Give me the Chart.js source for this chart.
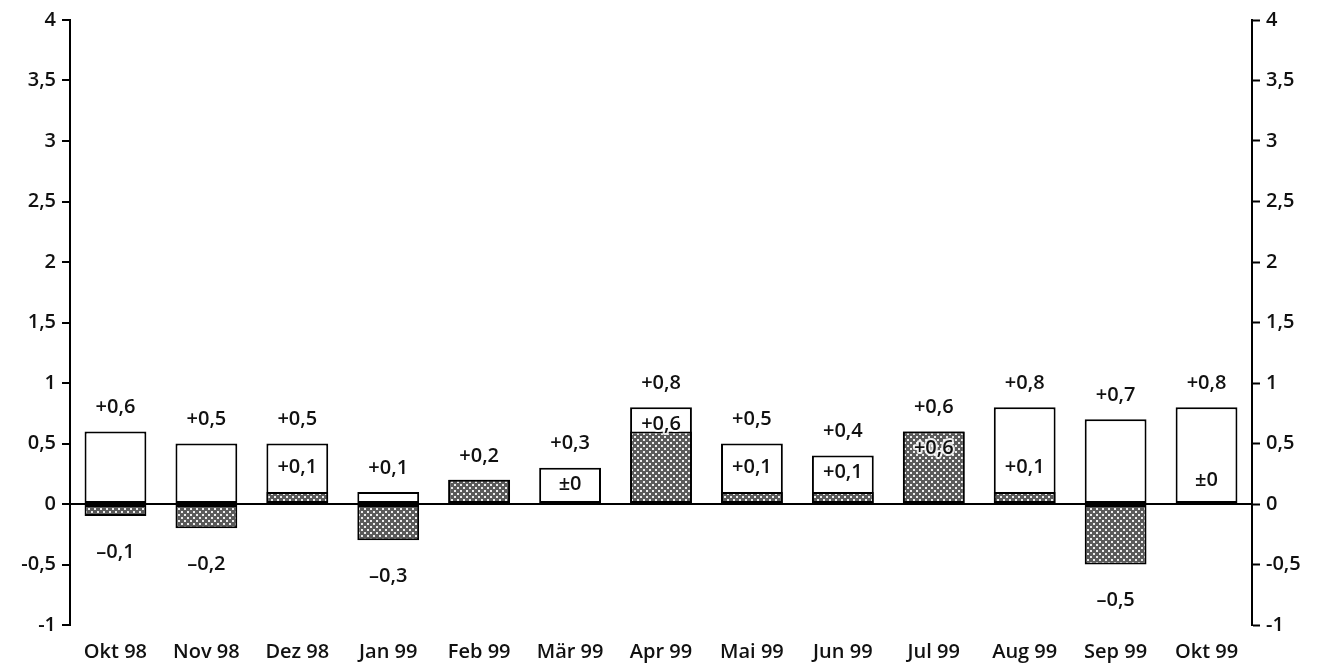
<!DOCTYPE html>
<html>
<head>
<meta charset="utf-8">
<script src="https://cdn.jsdelivr.net/npm/chart.js@4/dist/chart.umd.min.js"></script>
<style>
  body { margin: 0; background: #fff; }
  #wrap { width: 1327px; height: 671px; }
</style>
</head>
<body>
<div id="wrap"><canvas id="c" width="1327" height="671"></canvas></div>
<script>
// Daten
const months = ['Okt 98', 'Nov 98', 'Dez 98', 'Jan 99', 'Feb 99', 'Mär 99', 'Apr 99',
  'Mai 99', 'Jun 99', 'Jul 99', 'Aug 99', 'Sep 99', 'Okt 99'];
const totalValues = [0.6, 0.5, 0.5, 0.1, 0.2, 0.3, 0.8, 0.5, 0.4, 0.6, 0.8, 0.7, 0.8];
const partValues = [-0.1, -0.2, 0.1, -0.3, 0.2, 0, 0.6, 0.1, 0.1, 0.6, 0.1, -0.5, 0];
const innerLabels = [null, null, '+0,1', null, null, '±0', '+0,6', '+0,1', '+0,1', '+0,6', '+0,1', null, '±0'];
const yTicks = [-1, -0.5, 0, 0.5, 1, 1.5, 2, 2.5, 3, 3.5, 4];

const FONT = '"Open Sans", "Noto Sans", sans-serif';
const INK = '#111';

function fmt(v) {
  if (v === 0) return '±0';
  const s = Math.abs(v).toFixed(1).replace('.', ',');
  return (v > 0 ? '+' : '–') + s;
}

// Punktraster für die zweite Reihe
function makePattern() {
  const c = document.createElement('canvas');
  c.width = 6; c.height = 6;
  const g = c.getContext('2d');
  g.fillStyle = '#5a5a5a';
  g.fillRect(0, 0, 6, 6);
  g.fillStyle = '#eeeeee';
  g.fillRect(1, 1, 2, 2);
  g.fillRect(4, 4, 2, 2);
  return g.createPattern(c, 'repeat');
}

const ctx = document.getElementById('c').getContext('2d');
const pattern = makePattern();

const labelPlugin = {
  id: 'barLabels',
  afterDatasetsDraw(chart) {
    const c = chart.ctx;
    const y = chart.scales.y;
    const metaTotal = chart.getDatasetMeta(1);
    c.save();
    c.font = '600 20px ' + FONT;
    c.fillStyle = INK;
    c.textAlign = 'center';
    c.textBaseline = 'middle';
    c.lineJoin = 'round';
    months.forEach((m, i) => {
      const x = metaTotal.data[i].x;
      const top = Math.max(totalValues[i], partValues[i]);
      c.fillText(fmt(top), x, y.getPixelForValue(top) - 24);
      if (partValues[i] < 0) {
        c.fillText(fmt(partValues[i]), x, y.getPixelForValue(partValues[i]) + 36);
      }
      if (innerLabels[i]) {
        const h = Math.max(partValues[i], 0);
        const v = Math.min(h + 0.2, totalValues[i] - 0.14);
        const py = y.getPixelForValue(v);
        c.strokeStyle = 'rgba(255,255,255,0.85)';
        c.lineWidth = 4;
        c.strokeText(innerLabels[i], x, py);
        c.fillText(innerLabels[i], x, py);
      }
    });
    c.restore();
  }
};

const yScaleBase = {
  min: -1,
  max: 4,
  border: { display: true, color: '#000', width: 2 },
  afterBuildTicks(scale) { scale.ticks = yTicks.map(v => ({ value: v })); },
  ticks: {
    color: INK,
    font: { family: FONT, size: 20, weight: '600' },
    padding: 6,
    callback: v => String(v).replace('.', ',')
  }
};

new Chart(ctx, {
  type: 'bar',
  data: {
    labels: months,
    datasets: [
      {
        label: 'Teil',
        data: partValues,
        backgroundColor: pattern,
        borderColor: '#000',
        borderWidth: 2,
        borderSkipped: false,
        order: 1
      },
      {
        label: 'Gesamt',
        data: totalValues,
        backgroundColor: '#fff',
        borderColor: '#000',
        borderWidth: 2,
        borderSkipped: false,
        order: 2
      }
    ]
  },
  options: {
    responsive: false,
    animation: false,
    layout: { padding: { top: 20, bottom: 0, left: 0, right: 0 } },
    plugins: { legend: { display: false }, tooltip: { enabled: false } },
    datasets: { bar: { grouped: false, barPercentage: 1, categoryPercentage: 0.68 } },
    scales: {
      x: {
        grid: { display: false },
        border: { display: false },
        ticks: { color: INK, font: { family: FONT, size: 20, weight: '600' }, padding: 7, maxRotation: 0, autoSkip: false },
        afterFit(scale) { scale.height = 46; }
      },
      y: Object.assign({}, yScaleBase, {
        position: 'left',
        grid: {
          color: c => c.tick && c.tick.value === 0 ? '#000' : 'transparent',
          lineWidth: 2,
          tickColor: '#000',
          tickLength: 8,
          tickWidth: 2
        },
        afterFit(scale) { scale.width = 70; }
      }),
      y2: Object.assign({}, yScaleBase, {
        position: 'right',
        grid: { drawOnChartArea: false, tickColor: '#000', tickLength: 8, tickWidth: 2 },
        afterFit(scale) { scale.width = 75; }
      })
    }
  },
  plugins: [labelPlugin]
});
</script>
</body>
</html>
